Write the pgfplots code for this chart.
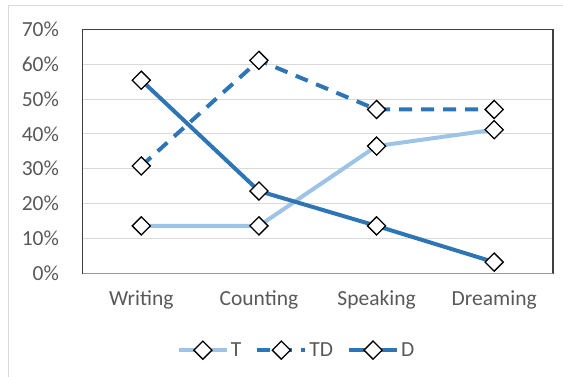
\documentclass[border=0pt]{standalone}
\usepackage{pgfplots}
\pgfplotsset{compat=1.18}
\usepackage{fontspec}
\setmainfont{Carlito}

\definecolor{lightblue}{RGB}{157,195,230}
\definecolor{darkblue}{RGB}{46,117,182}
\definecolor{labelgray}{RGB}{89,89,89}
\definecolor{gridgray}{RGB}{217,217,217}
\definecolor{framegray}{RGB}{64,64,64}

\begin{document}
\begin{tikzpicture}[x=1pt,y=1pt]
  \useasboundingbox (0,0) rectangle (563,-377);
  % chart area border
  \draw[gridgray, line width=1.5pt] (8.5,-377) -- (8.5,-5.5) -- (563,-5.5);
  \begin{axis}[
    at={(82.5pt,-273.3pt)}, anchor=south west,
    scale only axis, width=470.5pt, height=244pt,
    xmin=-0.5, xmax=3.5, ymin=0, ymax=70,
    xtick={0,1,2,3},
    xticklabels={Writing,Counting,Speaking,Dreaming},
    ytick={0,10,...,70},
    yticklabel={\pgfmathprintnumber[assume math mode=true]{\tick}\%},
    major tick length=0pt,
    ymajorgrids, grid style={gridgray, line width=1pt},
    axis line style={framegray, line width=1.2pt},
    font=\fontsize{21.5}{25}\selectfont,
    tick label style={labelgray},
    yticklabel style={xshift=-20pt},
    xticklabel style={yshift=-14pt},
    clip=false,
    every axis plot/.append style={
      line width=4pt,
      mark=square*, mark size=6.4pt,
      mark options={solid, rotate=45, draw=black, fill=white, line width=1.3pt},
    },
    legend image code/.code={
      \draw[mark repeat=2, mark phase=2, #1]
        plot coordinates {(0pt,0pt) (24pt,0pt) (48pt,0pt)};
    },
    legend columns=3,
    legend style={
      at={(0.455,-0.315)}, anchor=center, draw=none, fill=none,
      text=labelgray, font=\fontsize{21.5}{25}\selectfont,
      /tikz/every even column/.append style={column sep=12pt},
      inner sep=0pt,
    },
  ]
    \addplot[lightblue] coordinates {(0,13.6) (1,13.6) (2,36.5) (3,41.2)};
    \addlegendentry{T}
    \addplot[darkblue, dash pattern=on 13pt off 9pt] coordinates {(0,30.8) (1,61.1) (2,47.0) (3,47.0)};
    \addlegendentry{TD}
    \addplot[darkblue] coordinates {(0,55.4) (1,23.6) (2,13.6) (3,3.2)};
    \addlegendentry{D}
  \end{axis}
  \draw[gridgray!70!black, line width=1pt] (82.5,-273.3) -- (553,-273.3);
\end{tikzpicture}
\end{document}
